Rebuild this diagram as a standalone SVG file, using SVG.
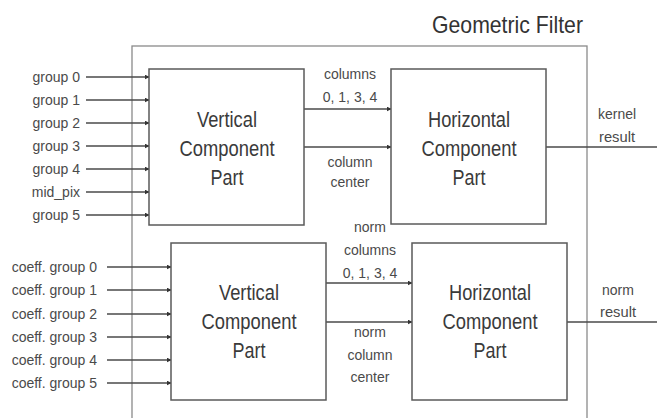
<svg xmlns="http://www.w3.org/2000/svg" width="657" height="418" viewBox="0 0 657 418">
<defs>
<marker id="arr" viewBox="0 0 8 8" refX="7" refY="4" markerWidth="5" markerHeight="5" orient="auto" markerUnits="userSpaceOnUse">
<path d="M0,0 L8,4 L0,8 z" fill="#333"/>
</marker>
<style>
.outer{fill:none;stroke:#8a8a8a;stroke-width:1.3}
.box{fill:#fff;stroke:#5a5a5a;stroke-width:1.5}
.bt{font-family:"Liberation Sans",Arial,sans-serif;font-size:22px;fill:#3a3a3a;text-anchor:middle}
.sm{font-family:"Liberation Sans",Arial,sans-serif;font-size:14px;fill:#4a4a4a}
.c{text-anchor:middle}
.e{text-anchor:end}
.ln{stroke:#4a4a4a;stroke-width:1.3;fill:none}
.in{marker-end:url(#arr)}
.title{font-family:"Liberation Sans",Arial,sans-serif;font-size:24px;fill:#333}
</style>
</defs>
<rect width="657" height="418" fill="#fff"/>
<g id="geometric-filter">
<rect class="outer" x="132" y="46" width="455" height="380"/>
<text class="title" x="432" y="33" textLength="151" lengthAdjust="spacingAndGlyphs">Geometric Filter</text>
</g>
<g id="connectors">
<line class="ln in" x1="86" y1="77" x2="149" y2="77"/>
<line class="ln in" x1="86" y1="100" x2="149" y2="100"/>
<line class="ln in" x1="86" y1="123" x2="149" y2="123"/>
<line class="ln in" x1="86" y1="146" x2="149" y2="146"/>
<line class="ln in" x1="86" y1="169" x2="149" y2="169"/>
<line class="ln in" x1="86" y1="192" x2="149" y2="192"/>
<line class="ln in" x1="86" y1="215" x2="149" y2="215"/>
<line class="ln in" x1="107" y1="267" x2="171" y2="267"/>
<line class="ln in" x1="107" y1="290" x2="171" y2="290"/>
<line class="ln in" x1="107" y1="314" x2="171" y2="314"/>
<line class="ln in" x1="107" y1="337" x2="171" y2="337"/>
<line class="ln in" x1="107" y1="360" x2="171" y2="360"/>
<line class="ln in" x1="107" y1="383" x2="171" y2="383"/>
<line class="ln in" x1="304" y1="109" x2="391" y2="109"/>
<line class="ln in" x1="304" y1="147" x2="391" y2="147"/>
<line class="ln in" x1="326" y1="283" x2="412" y2="283"/>
<line class="ln in" x1="326" y1="322" x2="412" y2="322"/>
<line class="ln" x1="546" y1="147" x2="657" y2="147"/>
<line class="ln" x1="567" y1="322" x2="657" y2="322"/>
</g>
<g id="labels">
<text class="sm e" x="80" y="82">group 0</text>
<text class="sm e" x="80" y="105">group 1</text>
<text class="sm e" x="80" y="128">group 2</text>
<text class="sm e" x="80" y="151">group 3</text>
<text class="sm e" x="80" y="174">group 4</text>
<text class="sm e" x="80" y="197">mid_pix</text>
<text class="sm e" x="80" y="220">group 5</text>
<text class="sm e" x="97" y="272">coeff. group 0</text>
<text class="sm e" x="97" y="295">coeff. group 1</text>
<text class="sm e" x="97" y="319">coeff. group 2</text>
<text class="sm e" x="97" y="342">coeff. group 3</text>
<text class="sm e" x="97" y="365">coeff. group 4</text>
<text class="sm e" x="97" y="388">coeff. group 5</text>
<text class="sm c" x="350" y="79">columns</text>
<text class="sm c" x="350" y="102">0, 1, 3, 4</text>
<text class="sm c" x="350" y="167">column</text>
<text class="sm c" x="350" y="187">center</text>
<text class="sm c" x="617" y="119" textLength="38" lengthAdjust="spacingAndGlyphs">kernel</text>
<text class="sm c" x="617" y="142" textLength="36" lengthAdjust="spacingAndGlyphs">result</text>
<text class="sm c" x="370" y="232">norm</text>
<text class="sm c" x="370" y="255">columns</text>
<text class="sm c" x="370" y="278">0, 1, 3, 4</text>
<text class="sm c" x="370" y="337">norm</text>
<text class="sm c" x="370" y="360">column</text>
<text class="sm c" x="370" y="382">center</text>
<text class="sm c" x="618" y="295">norm</text>
<text class="sm c" x="618" y="317" textLength="36" lengthAdjust="spacingAndGlyphs">result</text>
</g>
<g id="vertical-top">
<rect class="box" x="149" y="69" width="155" height="156"/>
<text class="bt" x="227" y="127" textLength="60" lengthAdjust="spacingAndGlyphs">Vertical</text>
<text class="bt" x="227" y="156" textLength="95" lengthAdjust="spacingAndGlyphs">Component</text>
<text class="bt" x="227" y="185" textLength="33" lengthAdjust="spacingAndGlyphs">Part</text>
</g>
<g id="horizontal-top">
<rect class="box" x="391" y="69" width="155" height="155"/>
<text class="bt" x="469" y="127" textLength="82" lengthAdjust="spacingAndGlyphs">Horizontal</text>
<text class="bt" x="469" y="156" textLength="95" lengthAdjust="spacingAndGlyphs">Component</text>
<text class="bt" x="469" y="185" textLength="33" lengthAdjust="spacingAndGlyphs">Part</text>
</g>
<g id="vertical-bottom">
<rect class="box" x="171" y="243" width="155" height="157"/>
<text class="bt" x="249" y="300" textLength="60" lengthAdjust="spacingAndGlyphs">Vertical</text>
<text class="bt" x="249" y="329" textLength="95" lengthAdjust="spacingAndGlyphs">Component</text>
<text class="bt" x="249" y="358" textLength="33" lengthAdjust="spacingAndGlyphs">Part</text>
</g>
<g id="horizontal-bottom">
<rect class="box" x="412" y="243" width="155" height="157"/>
<text class="bt" x="490" y="300" textLength="82" lengthAdjust="spacingAndGlyphs">Horizontal</text>
<text class="bt" x="490" y="329" textLength="95" lengthAdjust="spacingAndGlyphs">Component</text>
<text class="bt" x="490" y="358" textLength="33" lengthAdjust="spacingAndGlyphs">Part</text>
</g>
</svg>
